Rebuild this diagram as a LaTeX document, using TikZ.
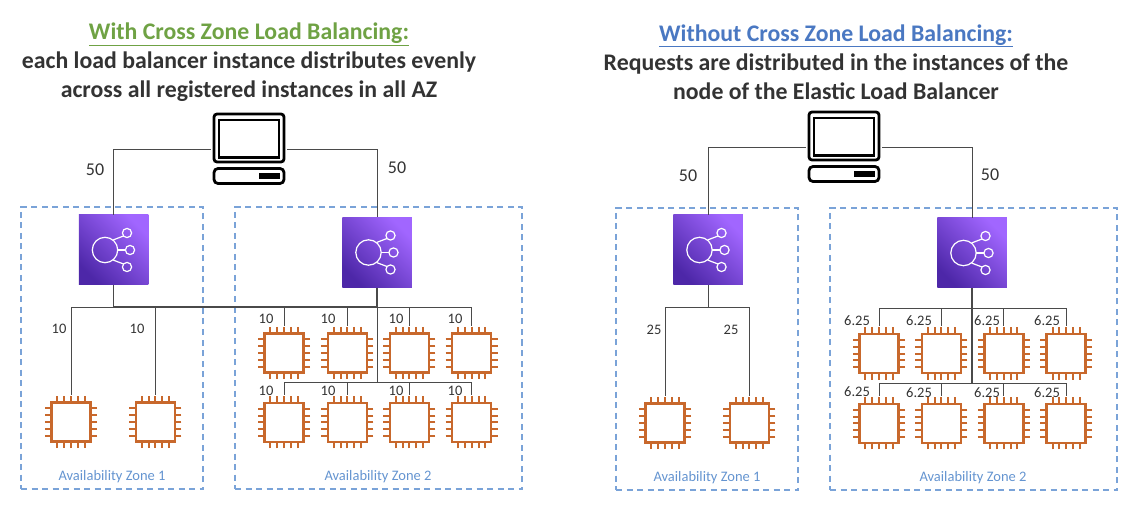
\documentclass[tikz,border=0pt]{standalone}
\usepackage{fontspec}
\setmainfont{Carlito}
\usepackage{xcolor}
\usetikzlibrary{positioning}
\definecolor{azblue}{HTML}{7AA3D8}
\definecolor{zonelabel}{HTML}{6494D0}
\definecolor{titleblue}{HTML}{4A78C2}
\definecolor{titlegreen}{HTML}{6FA244}
\definecolor{chiporange}{HTML}{C8682C}
\definecolor{elbdark}{HTML}{4D27A8}
\definecolor{elblight}{HTML}{A166FF}
\definecolor{wiregrey}{HTML}{4A4A4A}
\definecolor{inkgrey}{HTML}{333333}

\begin{document}
\begin{tikzpicture}[x=1pt, y=-1pt, font=\fontsize{14.5}{17}\selectfont,
        title/.style={align=center, inner sep=0pt, text=inkgrey, font=\fontsize{23.8}{29}\selectfont\bfseries},
        zone/.style={draw=azblue, dash pattern=on 6pt off 4.5pt, line width=1.1pt, inner sep=0pt},
        zonetext/.style={text=zonelabel, inner sep=0pt},
        share/.style={text=inkgrey, inner sep=0pt},
        bigshare/.style={text=inkgrey, inner sep=0pt, font=\fontsize{18}{21}\selectfont},
        wire/.style={draw=wiregrey, line width=0.8pt},
        trunk/.style={draw=wiregrey, line width=1.3pt},
        chip/.style={minimum size=54pt, inner sep=0pt, path picture={
            \begin{scope}[shift={(path picture bounding box.center)}]
              \draw[chiporange, line width=2.5pt] (-19.5,-19.5) rectangle (19.5,19.5);
              \foreach \p in {-13.6,-6.8,0,6.8,13.6} {
                \draw[chiporange, line width=2pt] (\p,-26) -- (\p,-20);
                \draw[chiporange, line width=2pt] (\p,26) -- (\p,20);
                \draw[chiporange, line width=2pt] (-26,\p) -- (-20,\p);
                \draw[chiporange, line width=2pt] (26,\p) -- (20,\p);
              }
            \end{scope}}},
        elb/.style={minimum width=69.5pt, minimum height=70pt, inner sep=0pt,
            left color=elbdark, right color=elblight, shading angle=135,
            path picture={
            \begin{scope}[shift={(path picture bounding box.center)}, white, line width=1.2pt]
              \draw (-8.5,0) circle (12.7);
              \draw (13.5,-17) circle (4.6);
              \draw (16.5,0) circle (4.6);
              \draw (13.5,17) circle (4.6);
              \draw (-0.5,-10) -- (10,-14);
              \draw (4.2,0) -- (11.9,0);
              \draw (-0.5,10) -- (10,14);
            \end{scope}}},
        pc/.style={minimum width=76pt, minimum height=74pt, inner sep=0pt, path picture={
            \begin{scope}[shift={(path picture bounding box.center)}, black, line width=2.8pt]
              \draw[rounded corners=3pt] (-35,-35) rectangle (35,13);
              \draw (-30,-29) rectangle (30,8.5);
              \draw[rounded corners=4pt] (-35,19.5) rectangle (35,34.5);
              \fill (10,24) rectangle (31,30);
            \end{scope}}}]
        \useasboundingbox (0,0) rectangle (1128,505);

        % left half
        \node[title] (titleA) at (249,62) {\textcolor{titlegreen}{\underline{With Cross Zone Load Balancing:}}\\each load balancer instance distributes evenly\\across all registered instances in all AZ};
        \node[zone, minimum width=182pt, minimum height=282pt] (zoneA) at (112,348) {};
        \node[zone, minimum width=287pt, minimum height=282pt] (zoneB) at (378.5,348) {};
        \node[zonetext] (zoneAtext) at (112,477) {Availability Zone 1};
        \node[zonetext] (zoneBtext) at (378,477) {Availability Zone 2};
        \node[pc] (pcL) at (249,149) {};
        \node[elb] (elbA) at (113.5,250) {};
        \node[elb] (elbB) at (377,252.5) {};
        \node[chip] (chipA) at (71,422) {};
        \node[chip, right=30pt of chipA] (chipB) {};
        \node[chip] (chipC) at (284,353) {};
        \node[chip, right=9pt of chipC] (chipD) {};
        \node[chip, right=7.5pt of chipD] (chipE) {};
        \node[chip, right=8pt of chipE] (chipF) {};
        \node[chip, below=15pt of chipC] (chipG) {};
        \node[chip, below=15pt of chipD] (chipH) {};
        \node[chip, below=15pt of chipE] (chipI) {};
        \node[chip, below=15pt of chipF] (chipJ) {};
        \coordinate (busA) at (113.5,307);
        \coordinate (busB) at (377,307);
        \coordinate (busC) at (377,382);
        \draw[wire] (pcL.west) -| (elbA.north);
        \draw[wire] (pcL.east) -| (elbB.north);
        \draw[wire] (elbA.south) -- (busA);
        \draw[trunk] (elbB.south) -- (busB);
        \draw[wire] (busC) -- (busB);
        \draw[trunk] (busA) -- (busB);
        \draw[wire] (busA) -| (chipA.north);
        \draw[wire] (busA) -| (chipB.north);
        \draw[wire] (busB) -| (chipC.north);
        \draw[wire] (busB) -| (chipD.north);
        \draw[wire] (busB) -| (chipE.north);
        \draw[wire] (busB) -| (chipF.north);
        \draw[wire] (busC) -| (chipG.north);
        \draw[wire] (busC) -| (chipH.north);
        \draw[wire] (busC) -| (chipI.north);
        \draw[wire] (busC) -| (chipJ.north);
        \node[bigshare] (shareA) at (95,170) {50};
        \node[bigshare] (shareB) at (397,168) {50};
        \node[share] (shareC) at (59,329) {10};
        \node[share] (shareD) at (137,329) {10};
        \node[share] (shareE) at (266,319) {10};
        \node[share] (shareF) at (328,319) {10};
        \node[share] (shareG) at (396,319) {10};
        \node[share] (shareH) at (455,319) {10};
        \node[share] (shareI) at (266,391) {10};
        \node[share] (shareJ) at (328,391) {10};
        \node[share] (shareK) at (396,391) {10};
        \node[share] (shareL) at (455,391) {10};

        % right half
        \node[title] (titleB) at (836,62) {\textcolor{titleblue}{\underline{Without Cross Zone Load Balancing:}}\\Requests are distributed in the instances of the\\node of the Elastic Load Balancer};
        \node[zone, minimum width=182pt, minimum height=282pt] (zoneC) at (707,349) {};
        \node[zone, minimum width=287pt, minimum height=282pt] (zoneD) at (973.5,349) {};
        \node[zonetext] (zoneCtext) at (707,478) {Availability Zone 1};
        \node[zonetext] (zoneDtext) at (973,478) {Availability Zone 2};
        \node[pc] (pcR) at (844,147) {};
        \node[elb] (elbC) at (708,250) {};
        \node[elb] (elbD) at (972,253) {};
        \node[chip] (chipK) at (665,423) {};
        \node[chip, right=30pt of chipK] (chipL) {};
        \node[chip] (chipM) at (879,353.5) {};
        \node[chip, right=8pt of chipM] (chipN) {};
        \node[chip, right=8pt of chipN] (chipO) {};
        \node[chip, right=8pt of chipO] (chipP) {};
        \node[chip, below=15.5pt of chipM] (chipQ) {};
        \node[chip, below=15.5pt of chipN] (chipR) {};
        \node[chip, below=15.5pt of chipO] (chipS) {};
        \node[chip, below=15.5pt of chipP] (chipT) {};
        \coordinate (busD) at (708,307);
        \coordinate (busE) at (972,308);
        \coordinate (busF) at (972,383);
        \draw[wire] (pcR.west) -| (elbC.north);
        \draw[wire] (pcR.east) -| (elbD.north);
        \draw[wire] (elbC.south) -- (busD);
        \draw[trunk] (elbD.south) -- (busF);
        \draw[wire] (busD) -| (chipK.north);
        \draw[wire] (busD) -| (chipL.north);
        \draw[wire] (busE) -| (chipM.north);
        \draw[wire] (busE) -| (chipN.north);
        \draw[wire] (busE) -| (chipO.north);
        \draw[wire] (busE) -| (chipP.north);
        \draw[wire] (busF) -| (chipQ.north);
        \draw[wire] (busF) -| (chipR.north);
        \draw[wire] (busF) -| (chipS.north);
        \draw[wire] (busF) -| (chipT.north);
        \node[bigshare] (shareM) at (688,176) {50};
        \node[bigshare] (shareN) at (990,175) {50};
        \node[share] (shareO) at (654,330) {25};
        \node[share] (shareP) at (731,330) {25};
        \node[share] (shareQ) at (857,321) {6.25};
        \node[share] (shareR) at (919,321) {6.25};
        \node[share] (shareS) at (987,321) {6.25};
        \node[share] (shareT) at (1047,321) {6.25};
        \node[share] (shareU) at (857,392) {6.25};
        \node[share] (shareV) at (919,393) {6.25};
        \node[share] (shareW) at (987,393) {6.25};
        \node[share] (shareX) at (1047,393) {6.25};
\end{tikzpicture}
\end{document}
